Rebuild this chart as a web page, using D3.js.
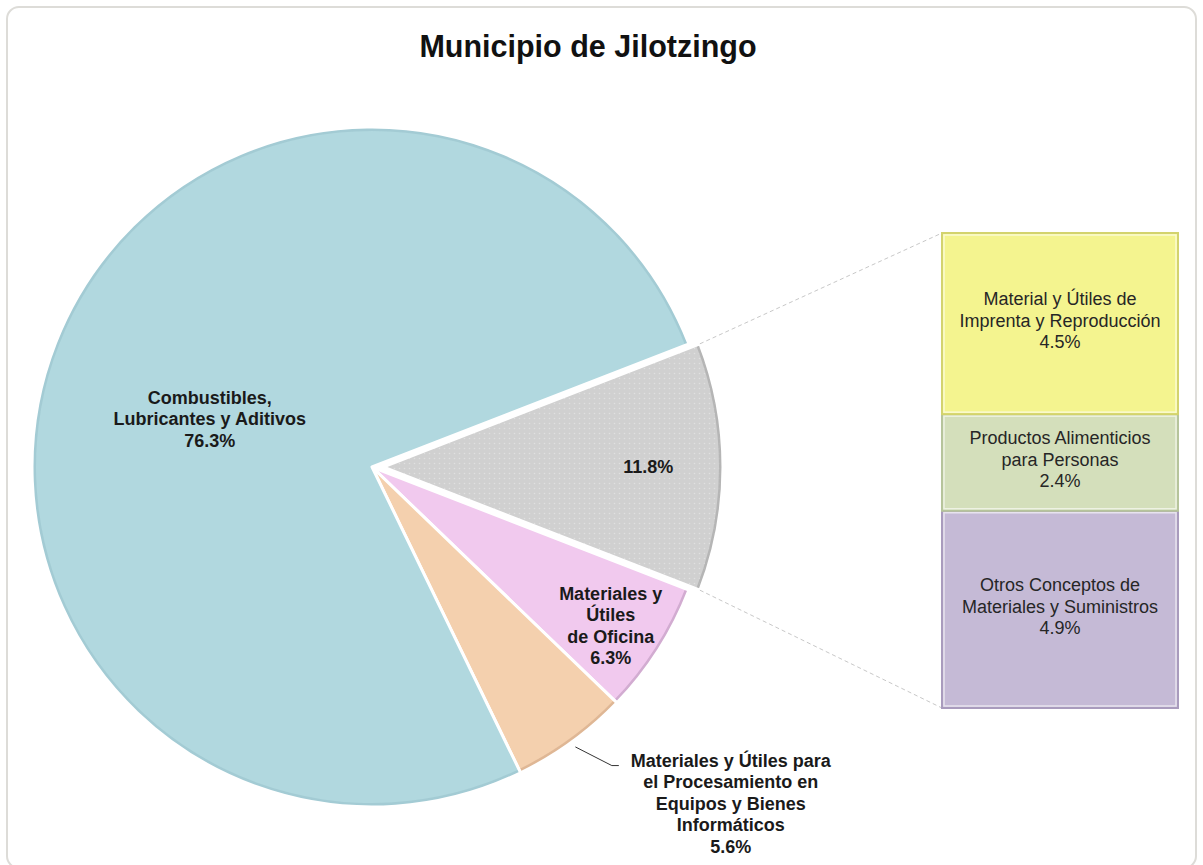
<!DOCTYPE html>
<html>
<head>
<meta charset="utf-8">
<script src="https://cdn.jsdelivr.net/npm/d3@7"></script>
<style>
  body { margin: 0; background: #fff; }
  svg { display: block; font-family: "Liberation Sans", Arial, sans-serif; }
</style>
</head>
<body>
<svg width="1203" height="865"></svg>
<script>
// pie slices, clockwise starting with the "other" slice that gets split into the bar
var pieKeys = ["otros", "oficina", "informaticos", "combustibles"],
    pieValues = [11.8, 6.3, 5.6, 76.3],
    pieLabels = [["11.8%"],
                 ["Materiales y", "Útiles", "de Oficina", "6.3%"],
                 ["Materiales y Útiles para", "el Procesamiento en", "Equipos y Bienes", "Informáticos", "5.6%"],
                 ["Combustibles,", "Lubricantes y Aditivos", "76.3%"]];

// bar of the split slice, bottom to top
var barKeys = ["otrosConceptos", "alimenticios", "imprenta"],
    barValues = [4.9, 2.4, 4.5],
    barLabels = [["Otros Conceptos de", "Materiales y Suministros", "4.9%"],
                 ["Productos Alimenticios", "para Personas", "2.4%"],
                 ["Material y Útiles de", "Imprenta y Reproducción", "4.5%"]];

var title = "Municipio de Jilotzingo";

var svg = d3.select("svg"),
    width = +svg.attr("width"),
    height = +svg.attr("height");

var pieColor = d3.scaleOrdinal().domain(pieKeys).range(["#d0d0d0", "#f1c9ee", "#f4d0ae", "#b1d8df"]),
    pieRim = d3.scaleOrdinal().domain(pieKeys).range(["#a9a9a9", "#c49fc4", "#d6ad8a", "#9cc6ce"]),
    barColor = d3.scaleOrdinal().domain(barKeys).range(["#c5bad6", "#d4dfbb", "#f4f48f"]),
    barRim = d3.scaleOrdinal().domain(barKeys).range(["#a99bbd", "#b6c49b", "#d3d36d"]);

// frame
svg.append("rect")
    .attr("x", 7).attr("y", 7)
    .attr("width", width - 14).attr("height", height - 4)
    .attr("rx", 12)
    .attr("fill", "#fff")
    .attr("stroke", "#dddcd8")
    .attr("stroke-width", 2);

svg.append("text")
    .attr("x", 588).attr("y", 57)
    .attr("text-anchor", "middle")
    .style("font-size", "30.5px")
    .style("font-weight", "bold")
    .attr("fill", "#111")
    .text(title);

// dotted pattern for the grey slice
var defs = svg.append("defs");
var pat = defs.append("pattern")
    .attr("id", "dots")
    .attr("width", 5).attr("height", 5)
    .attr("patternUnits", "userSpaceOnUse");
pat.append("rect").attr("width", 5).attr("height", 5).attr("fill", "#d0d0d0");
pat.append("circle").attr("cx", 1.5).attr("cy", 1.5).attr("r", 0.8).attr("fill", "#e0e0e0");

var cx = 372, cy = 467, radius = 340, explode = 11;

var otherShare = pieValues[0] / d3.sum(pieValues);
var pie = d3.pie()
    .sort(null)
    .value(function(d) { return d; })
    .startAngle(Math.PI / 2 - otherShare * Math.PI)
    .endAngle(Math.PI / 2 - otherShare * Math.PI + 2 * Math.PI);

var arcs = pie(pieValues);
arcs.forEach(function(a, i) { a.key = pieKeys[i]; a.lines = pieLabels[i]; });

var arc = d3.arc().innerRadius(0).outerRadius(radius),
    rim = d3.arc().innerRadius(radius - 4).outerRadius(radius);

function offset(d) {
  if (d.index !== 0) return [0, 0];
  var m = (d.startAngle + d.endAngle) / 2;
  return [Math.sin(m) * explode, -Math.cos(m) * explode];
}

var g = svg.append("g").attr("transform", "translate(" + cx + "," + cy + ")");

var slice = g.selectAll(".slice")
  .data(arcs)
  .enter().append("g")
    .attr("class", "slice")
    .attr("transform", function(d) { return "translate(" + offset(d) + ")"; });

slice.append("path")
    .attr("d", arc)
    .attr("fill", function(d) { return d.index === 0 ? "url(#dots)" : pieColor(d.key); });

slice.append("path")
    .attr("d", rim)
    .attr("fill", function(d) { return pieRim(d.key); })
    .attr("opacity", 0.7);

slice.append("path")
    .attr("d", arc)
    .attr("fill", "none")
    .attr("stroke", "#fff")
    .attr("stroke-width", 3)
    .attr("stroke-linejoin", "round");

// labels inside the pie
var labelRadius = {otros: 0.78, oficina: 0.84, combustibles: 0.5};
var fontSize = 18, lineH = 21.5;

slice.filter(function(d) { return labelRadius[d.key]; })
  .append("text")
    .attr("text-anchor", "middle")
    .style("font-size", fontSize + "px")
    .style("font-weight", "bold")
    .attr("fill", "#1a1a1a")
    .each(function(d) {
      var r = radius * labelRadius[d.key];
      var c = d3.arc().innerRadius(r).outerRadius(r).centroid(d);
      if (d.key === "combustibles") { c[0] -= 4; c[1] += 14; }
      if (d.key === "oficina") { c[0] -= 2; c[1] += 5; }
      var t = d3.select(this);
      var n = d.lines.length;
      d.lines.forEach(function(s, i) {
        t.append("tspan")
          .attr("x", c[0])
          .attr("y", c[1] + (i - (n - 1) / 2) * lineH)
          .attr("dy", "0.35em")
          .text(s);
      });
    });

// outside label with leader for the small orange slice
var orange = arcs[2];
var p0 = d3.arc().innerRadius(radius + 6).outerRadius(radius + 6).centroid(orange),
    p1 = d3.arc().innerRadius(radius * 1.1).outerRadius(radius * 1.1).centroid(orange);
p1 = [p1[0] + 20, p1[1] - 4];
var p2 = [p1[0] + 7, p1[1]];
g.append("polyline")
    .attr("points", [p0, p1, p2].map(function(p) { return p.join(","); }).join(" "))
    .attr("fill", "none")
    .attr("stroke", "#333")
    .attr("stroke-width", 1);

var ot = g.append("text")
    .attr("text-anchor", "middle")
    .style("font-size", fontSize + "px")
    .style("font-weight", "bold")
    .attr("fill", "#1a1a1a");
orange.lines.forEach(function(s, i) {
  ot.append("tspan")
    .attr("x", p2[0] + 112)
    .attr("y", p2[1] - 5 + i * lineH)
    .attr("dy", "0.35em")
    .text(s);
});

// stacked bar
var barX = 942, barW = 236;
var y = d3.scaleLinear().domain([0, d3.sum(barValues)]).range([708, 233]);

var stack = [];
var acc = 0;
barValues.forEach(function(v, i) {
  stack.push({key: barKeys[i], lines: barLabels[i], y0: acc, y1: acc + v});
  acc += v;
});

// connector lines from the grey slice corners to the bar
var other = arcs[0], oo = offset(other);
var cTop = d3.pointRadial(other.startAngle, radius),
    cBot = d3.pointRadial(other.endAngle, radius);
var conn = [
  [[cx + oo[0] + cTop[0], cy + oo[1] + cTop[1]], [barX, y(acc)]],
  [[cx + oo[0] + cBot[0], cy + oo[1] + cBot[1]], [barX, y(0)]]
];
svg.selectAll(".conn")
  .data(conn)
  .enter().append("line")
    .attr("class", "conn")
    .attr("x1", function(d) { return d[0][0]; })
    .attr("y1", function(d) { return d[0][1]; })
    .attr("x2", function(d) { return d[1][0]; })
    .attr("y2", function(d) { return d[1][1]; })
    .attr("stroke", "#c8c8c8")
    .attr("stroke-width", 1)
    .attr("stroke-dasharray", "4,3");

var seg = svg.selectAll(".seg")
  .data(stack)
  .enter().append("g")
    .attr("class", "seg");

seg.append("rect")
    .attr("x", barX)
    .attr("y", function(d) { return y(d.y1); })
    .attr("width", barW)
    .attr("height", function(d) { return y(d.y0) - y(d.y1); })
    .attr("fill", function(d) { return barColor(d.key); })
    .attr("stroke", function(d) { return barRim(d.key); })
    .attr("stroke-width", 2);

seg.append("rect")
    .attr("x", barX + 2)
    .attr("y", function(d) { return y(d.y1) + 2; })
    .attr("width", barW - 4)
    .attr("height", function(d) { return y(d.y0) - y(d.y1) - 4; })
    .attr("fill", "none")
    .attr("stroke", "#fff")
    .attr("stroke-opacity", 0.6)
    .attr("stroke-width", 1.5);

seg.append("text")
    .attr("text-anchor", "middle")
    .style("font-size", fontSize + "px")
    .attr("fill", "#262626")
    .each(function(d) {
      var t = d3.select(this);
      var mid = (y(d.y0) + y(d.y1)) / 2 - 3;
      var n = d.lines.length;
      d.lines.forEach(function(s, i) {
        t.append("tspan")
          .attr("x", barX + barW / 2)
          .attr("y", mid + (i - (n - 1) / 2) * lineH)
          .attr("dy", "0.35em")
          .text(s);
      });
    });
</script>
</body>
</html>
